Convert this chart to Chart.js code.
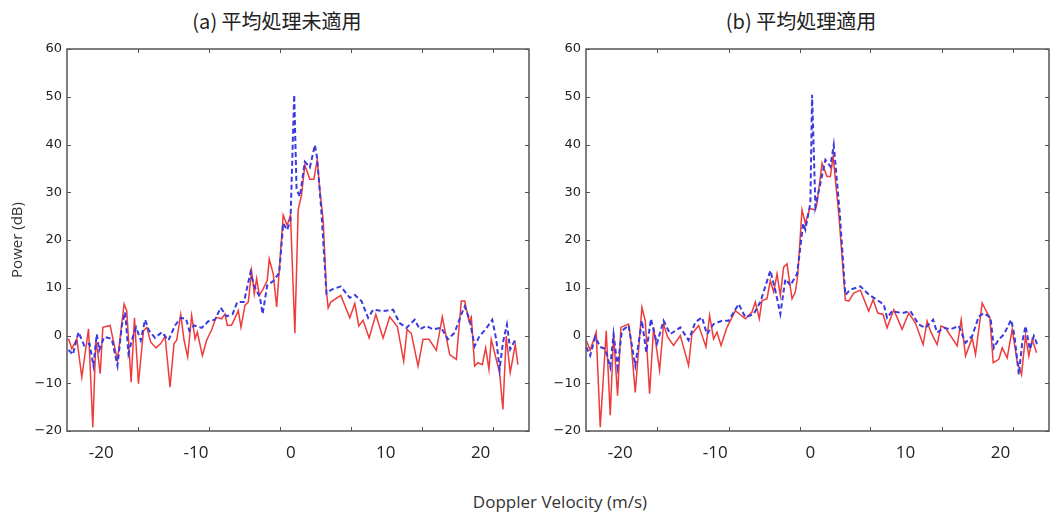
<!DOCTYPE html>
<html>
<head>
<meta charset="utf-8">
<script src="https://cdn.jsdelivr.net/npm/chart.js@4"></script>
<style>
  body { margin: 0; background: #fff; width: 1053px; height: 514px; position: relative; overflow: hidden; }
  canvas { position: absolute; top: 0; }
  .title { position: absolute; top: 6px; font: 20px "Noto Sans CJK JP", "Open Sans", sans-serif; color: #222; text-align: center; }
  #xtitle { position: absolute; top: 490px; left: 0; width: 1120px; text-align: center; font: 17px "Open Sans", sans-serif; color: #333; }
</style>
</head>
<body>
<div class="title" style="left:167px;width:220px">(a) 平均処理未適用</div>
<div class="title" style="left:691px;width:220px">(b) 平均処理適用</div>
<canvas id="chartA" width="540" height="470" style="left:0"></canvas>
<canvas id="chartB" width="513" height="470" style="left:540px"></canvas>
<div id="xtitle">Doppler Velocity (m/s)</div>
<script>
// tick values
const xLabels = [-20, -10, 0, 10, 20];
const yTicks = [-20, -10, 0, 10, 20, 30, 40, 50, 60];
// little tick marks on the frame (they don't line up with the labels in the original)
const xTickMarks = [-16.1, -8.6, -1.1, 6.3, 13.8, 21.3];

// (a) no averaging
const aRedV = [-23.44, -23.09, -22.56, -22.04, -21.33, -20.88, -20.56, -20.35, -20.1, -19.82, -19.05, -18.28, -17.58, -17.3, -16.84, -16.49, -16.07, -15.54, -15.19, -14.77, -14.21, -13.72, -13.26, -12.74, -12.32, -12.04, -11.61, -11.26, -10.88, -10.46, -10.1, -9.86, -9.33, -8.88, -8.35, -7.89, -7.3, -6.95, -6.7, -6.25, -5.89, -5.54, -5.26, -4.84, -4.49, -4.14, -3.86, -3.61, -3.33, -2.91, -2.49, -2.28, -1.86, -1.5, -0.81, -0.39, -0.04, 0.42, 0.77, 1.12, 1.47, 2.0, 2.42, 2.77, 3.05, 3.4, 3.75, 3.93, 4.2, 5.26, 6.21, 6.74, 7.16, 7.61, 8.25, 8.95, 9.72, 10.42, 11.23, 11.89, 12.25, 12.7, 13.4, 13.93, 14.56, 15.33, 15.96, 16.74, 17.44, 17.96, 18.32, 18.77, 19.02, 19.37, 19.72, 20.18, 20.53, 20.88, 21.12, 22.0, 22.35, 22.7, 23.12, 23.65, 23.93];
const aRedP = [-0.7, -2.8, -0.7, -8.7, 1.4, -19.2, -1.0, -3.8, -8.0, 1.7, 2.1, -5.2, 6.6, 5.2, -9.8, 3.7, -10.1, 1.0, 1.7, -1.4, -2.6, -1.7, -0.2, -10.8, -1.7, -1.0, 4.4, -1.0, -4.5, 4.2, -0.7, 0.7, -4.2, -1.0, 1.2, 3.8, 3.5, 4.5, 2.1, 2.2, 3.7, 5.2, 1.7, 6.3, 7.0, 13.5, 8.7, 11.9, 8.4, 9.8, 11.5, 16.0, 12.9, 6.0, 25.2, 23.1, 25.2, 0.5, 26.3, 29.4, 35.7, 32.7, 32.7, 36.8, 30.5, 24.2, 9.2, 5.8, 7.0, 8.4, 3.7, 6.7, 2.0, 3.2, -0.5, 4.4, -0.5, 3.9, 1.8, -5.4, 1.3, 0.4, -6.4, -0.8, -0.8, -3.1, 3.9, -4.0, -5.0, 7.2, 7.2, 3.0, 3.9, -6.4, -5.7, -6.1, -2.6, -7.1, -0.8, -7.8, -15.5, -0.1, -7.8, -1.9, -6.1];
const aBlueV = [-23.44, -22.98, -22.39, -21.79, -21.23, -20.81, -20.46, -20.21, -19.68, -18.88, -18.28, -17.82, -17.47, -17.12, -16.77, -16.32, -15.82, -15.37, -14.95, -14.32, -13.61, -12.91, -12.21, -11.61, -11.05, -10.7, -10.21, -9.4, -8.7, -8.0, -7.4, -6.77, -6.14, -5.65, -4.95, -4.25, -3.89, -3.26, -2.98, -2.49, -1.86, -1.23, -0.81, -0.39, -0.04, 0.35, 0.6, 0.95, 1.47, 2.0, 2.53, 2.77, 3.23, 3.75, 4.28, 5.26, 6.21, 6.74, 7.44, 8.14, 8.67, 9.72, 10.77, 11.47, 12.18, 13.05, 13.58, 14.28, 14.98, 15.86, 16.56, 17.26, 17.96, 18.32, 18.84, 19.37, 19.89, 20.53, 21.23, 21.65, 22.0, 22.35, 22.77, 23.12, 23.75];
const aBlueP = [-3.0, -4.0, 0.7, -2.1, -1.7, -6.3, 0.3, -3.1, -0.3, -0.7, -6.3, 2.1, 4.9, -3.8, -1.0, 1.7, -1.0, 3.3, 1.0, -0.5, 0.7, -1.0, 2.1, 3.7, 3.5, 1.0, 2.1, 1.6, 3.0, 3.3, 5.8, 4.0, 4.5, 7.0, 7.0, 13.3, 10.5, 8.0, 4.5, 10.5, 11.4, 13.1, 23.5, 22.1, 24.2, 50.4, 30.5, 29.1, 36.4, 35.2, 39.9, 37.1, 25.6, 8.8, 9.6, 10.3, 7.9, 8.5, 7.2, 3.7, 5.4, 5.1, 5.4, 2.6, 1.6, 3.3, 1.3, 2.0, 1.3, 1.6, -0.8, 0.6, 4.4, 6.1, 3.3, -2.2, -0.1, 1.3, 3.3, -0.8, -7.1, -1.5, 2.3, -2.9, -0.5];

// (b) with averaging
const bRedV = [-23.58, -23.16, -22.53, -22.1, -21.47, -21.05, -20.7, -20.28, -19.93, -19.12, -18.88, -18.42, -17.72, -17.37, -16.91, -16.49, -15.86, -15.44, -15.02, -14.39, -13.68, -12.81, -12.46, -11.75, -10.98, -10.6, -10.18, -9.82, -9.4, -8.77, -7.89, -6.84, -6.14, -5.79, -5.37, -5.09, -4.56, -4.21, -3.86, -3.51, -3.16, -2.81, -2.46, -1.93, -1.58, -1.33, -0.88, -0.53, -0.07, 0.53, 0.7, 1.23, 1.75, 2.1, 2.39, 2.98, 3.68, 4.04, 4.56, 5.26, 6.14, 6.6, 7.09, 7.65, 8.07, 8.77, 9.65, 10.35, 11.05, 11.86, 12.28, 12.63, 13.33, 13.75, 14.21, 15.44, 15.86, 16.32, 17.02, 17.37, 18.07, 18.42, 18.88, 19.23, 19.82, 20.18, 20.7, 21.23, 21.75, 22.21, 22.63, 22.98, 23.33, 23.79];
const bRedP = [-1.0, -3.1, 0.7, -19.2, 1.0, -16.7, 0.3, -12.6, 1.7, 2.4, -1.0, -11.9, 5.9, 3.1, -12.2, 1.7, -7.3, 2.4, -0.3, -2.1, 0.0, -6.3, 0.3, 2.1, -2.4, 4.2, -0.7, 0.7, -2.1, 1.7, 5.2, 3.5, 4.9, 7.0, 3.5, 7.3, 7.7, 11.5, 9.1, 12.9, 8.4, 14.3, 15.0, 7.7, 9.1, 12.6, 26.3, 23.5, 26.6, 26.3, 27.7, 36.1, 33.3, 33.3, 37.5, 25.6, 7.4, 7.2, 8.9, 9.5, 5.1, 7.5, 4.7, 4.4, 1.6, 5.4, 1.3, 4.7, 2.6, -1.9, 3.0, 0.9, -1.9, 2.0, 1.6, -2.2, 3.3, -4.3, -0.5, -4.0, 6.8, 5.4, 3.7, -5.7, -5.0, -2.6, -4.7, 1.3, -5.4, -8.2, -0.1, -4.3, -0.8, -3.6];
const bBlueV = [-23.58, -23.16, -22.63, -22.1, -21.58, -21.05, -20.7, -20.28, -19.82, -19.12, -18.42, -17.72, -17.26, -16.77, -16.14, -15.44, -14.74, -13.68, -12.81, -12.1, -11.4, -10.88, -10.18, -9.3, -8.6, -7.54, -6.84, -5.96, -5.26, -4.21, -3.68, -3.16, -2.63, -2.1, -1.4, -0.75, -0.53, 0.0, 0.18, 0.53, 1.58, 2.1, 2.46, 3.09, 3.68, 4.2, 5.26, 6.14, 7.72, 8.07, 8.6, 9.65, 10.53, 11.4, 12.1, 12.91, 13.33, 14.04, 14.74, 15.61, 16.32, 17.02, 17.72, 18.25, 18.95, 19.3, 19.82, 20.35, 21.12, 21.47, 21.93, 22.28, 22.63, 23.09, 23.51, 23.86];
const bBlueP = [-2.4, -4.2, -0.3, -2.4, -2.8, -6.6, 0.3, -6.6, 1.0, 2.1, -6.3, 3.1, -3.5, 3.5, -1.7, 3.1, 0.3, 1.7, -1.0, 2.8, 3.8, 0.3, 2.4, 3.1, 3.1, 6.6, 3.8, 4.5, 7.0, 13.6, 9.4, 4.5, 11.8, 10.5, 12.9, 23.5, 22.2, 27.7, 50.4, 27.0, 36.8, 35.4, 39.9, 25.6, 8.5, 9.6, 10.3, 8.6, 6.5, 3.7, 5.1, 4.7, 5.1, 2.3, 1.6, 3.3, 0.6, 1.6, 1.3, 2.0, -1.5, -0.1, 4.0, 4.7, 3.7, -2.6, -0.8, 0.2, 3.3, -0.1, -8.2, -1.5, 2.0, -2.9, -0.1, -1.9];

const toXY = (vs, ps) => vs.map((v, i) => ({ x: v, y: ps[i] }));

const framePlugin = {
  id: 'frame',
  afterDraw(chart) {
    const { ctx, chartArea: a } = chart;
    const x = chart.scales.x, y = chart.scales.y;
    ctx.save();
    ctx.strokeStyle = '#555';
    ctx.lineWidth = 1.5;
    ctx.strokeRect(a.left, a.top, a.right - a.left, a.bottom - a.top);
    ctx.lineWidth = 1;
    ctx.beginPath();
    yTicks.forEach(v => {
      const py = Math.round(y.getPixelForValue(v)) + 0.5;
      ctx.moveTo(a.left, py); ctx.lineTo(a.left + 4, py);
      ctx.moveTo(a.right, py); ctx.lineTo(a.right - 4, py);
    });
    xTickMarks.forEach(v => {
      const px = Math.round(x.getPixelForValue(v)) + 0.5;
      ctx.moveTo(px, a.top); ctx.lineTo(px, a.top + 4);
      ctx.moveTo(px, a.bottom); ctx.lineTo(px, a.bottom - 4);
    });
    ctx.stroke();
    ctx.restore();
  }
};

function makeChart(id, redV, redP, blueV, blueP, showYTitle, yWidth, padRight) {
  return new Chart(document.getElementById(id), {
    type: 'line',
    data: {
      datasets: [
        { data: toXY(blueV, blueP), borderColor: '#3a3ae0', borderWidth: 2, borderDash: [5, 3], pointRadius: 0, order: 0 },
        { data: toXY(redV, redP), borderColor: '#ee3b3b', borderWidth: 1.5, pointRadius: 0, order: 1 }
      ]
    },
    options: {
      responsive: false,
      animation: false,
      devicePixelRatio: 1,
      layout: { padding: { top: 49, right: padRight, left: 0, bottom: 0 } },
      plugins: { legend: { display: false }, tooltip: { enabled: false } },
      scales: {
        x: {
          type: 'linear', min: -23.6, max: 25.1,
          afterBuildTicks: s => { s.ticks = xLabels.map(v => ({ value: v })); },
          afterFit: s => { s.height = 39; },
          grid: { display: false, drawTicks: false },
          border: { display: false },
          ticks: { padding: 12, color: '#222', font: { family: 'Open Sans', size: 17 }, maxRotation: 0 }
        },
        y: {
          min: -20, max: 60,
          afterFit: s => { s.width = yWidth; },
          grid: { display: false, drawTicks: false },
          border: { display: false },
          ticks: {
            stepSize: 10, padding: 5, color: '#222',
            font: { family: 'DejaVu Sans', size: 13 },
            callback: v => String(v).replace('-', '\u2212')
          },
          title: { display: showYTitle, text: 'Power (dB)', color: '#333', padding: { top: 9, bottom: 0 }, font: { family: 'Open Sans', size: 15 } }
        }
      }
    },
    plugins: [framePlugin]
  });
}

makeChart('chartA', aRedV, aRedP, aBlueV, aBlueP, true, 67, 11);
makeChart('chartB', bRedV, bRedP, bBlueV, bBlueP, false, 46, 4);
</script>
</body>
</html>
